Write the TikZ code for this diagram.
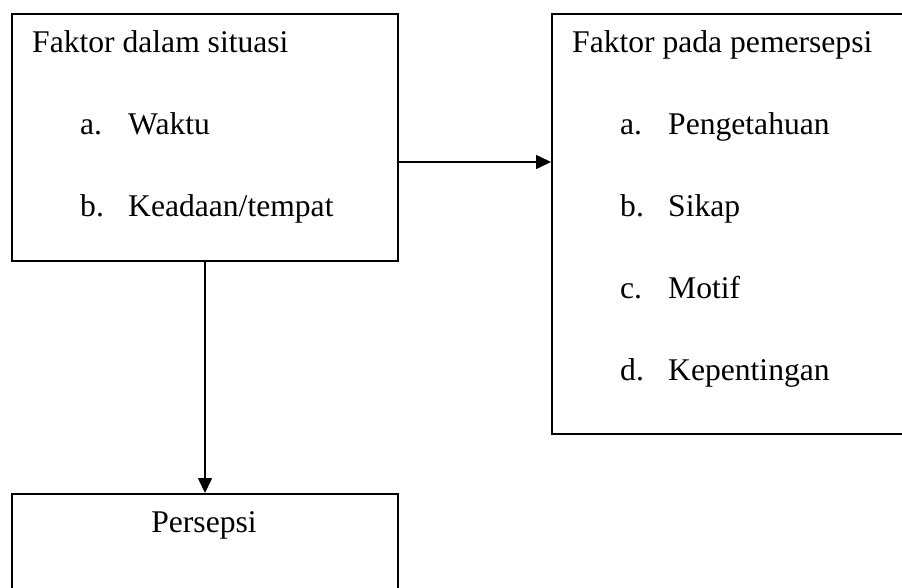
\documentclass[tikz,border=0pt]{standalone}
\usepackage{fontspec}
\setmainfont{Liberation Serif}
\usetikzlibrary{arrows.meta}
\begin{document}
\begin{tikzpicture}[x=1pt,y=-1pt,
  box/.style={draw=black,line width=1.6pt,rectangle,anchor=north west,inner sep=0pt},
  txt/.style={anchor=base west,inner sep=0pt,font=\fontsize{31.6pt}{36pt}\selectfont},
  conn/.style={line width=1.6pt,-{Triangle[length=15pt,width=14pt]}}]
\useasboundingbox (0,0) rectangle (902,588);
\clip (0,0) rectangle (902,588);
\fill[white] (0,0) rectangle (902,588);
% boxes
\node[box,minimum width=386pt,minimum height=247pt] (b1) at (11,13) {};
\node[box,minimum width=380pt,minimum height=420pt] (b2) at (551,13) {};
\node[box,minimum width=386pt,minimum height=140pt] (b3) at (11,493) {};
% box 1 texts
\node[txt] (t1) at (32,53) {Faktor dalam situasi};
\node[txt] (t1a) at (80,135) {a.};
\node[txt] (t1aa) at (128,135) {Waktu};
\node[txt] (t1b) at (80,217) {b.};
\node[txt] (t1bb) at (128,217) {Keadaan/tempat};
% box 2 texts
\node[txt] (t2) at (572,53) {Faktor pada pemersepsi};
\node[txt] (t2a) at (620,135) {a.};
\node[txt] (t2aa) at (668,135) {Pengetahuan};
\node[txt] (t2b) at (620,217) {b.};
\node[txt] (t2bb) at (668,217) {Sikap};
\node[txt] (t2c) at (620,298) {c.};
\node[txt] (t2cc) at (668,298) {Motif};
\node[txt] (t2d) at (620,380) {d.};
\node[txt] (t2dd) at (668,380) {Kepentingan};
% box 3 text
\node[txt,anchor=base] (t3) at (204,532) {Persepsi};
% connectors
\draw[conn] (b1.east |- 0,162) -- (b2.west |- 0,162);
\draw[conn] (205,260) -- (205,493);
\end{tikzpicture}
\end{document}
